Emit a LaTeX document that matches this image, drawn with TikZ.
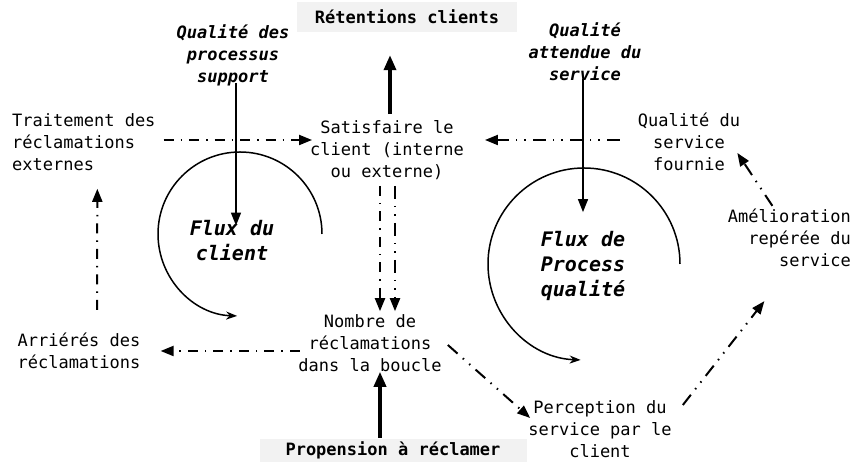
\documentclass[tikz,border=0pt]{standalone}
\usepackage{fontspec}
\setmonofont{DejaVu Sans Mono}
\usetikzlibrary{arrows.meta,calc}

\begin{document}
\begin{tikzpicture}[
    x=1pt, y=1pt,
    txt/.style={inner sep=0pt, align=center, font=\ttfamily\fontsize{17}{22}\selectfont},
    ital/.style={txt, font=\ttfamily\bfseries\itshape\fontsize{17}{22}\selectfont},
    flux/.style={txt, font=\ttfamily\bfseries\itshape\fontsize{20}{25}\selectfont},
    grey box/.style={txt, fill=gray!10, font=\ttfamily\bfseries\fontsize{17}{22}\selectfont},
    arr/.style={-{Triangle[length=13pt,width=10pt]}, line width=1.5pt},
    bigarr/.style={-{Triangle[length=15pt,width=12pt]}, line width=3.5pt},
    dd/.style={-{Triangle[length=13pt,width=10pt]}, line width=2pt, dash pattern=on 10pt off 7pt on 1.5pt off 7pt},
    ddd/.style={-{Triangle[length=13pt,width=10pt]}, line width=2pt, dash pattern=on 13pt off 7pt on 1.5pt off 7pt on 1.5pt off 7pt},
]
\useasboundingbox (0,0) rectangle (852,462);

\node[grey box, minimum width=220pt, minimum height=30pt] (reten) at (407,445) {Rétentions clients};
\node[grey box, minimum width=267pt, minimum height=23pt] (prop) at (393,11.5) {Propension à réclamer};

\node[ital] (qsup) at (233,407) {Qualité des\\processus\\support};
\node[ital] (qatt) at (585,410) {Qualité\\attendue du\\service};

\node[txt, anchor=west, align=left] (trait) at (12,320) {Traitement des\\réclamations\\externes};
\node[txt] (satis) at (387,312) {Satisfaire le\\client (interne\\ou externe)};
\node[txt] (qfour) at (689,320) {Qualité du\\service\\fournie};
\node[txt, anchor=east, align=right] (amel) at (851,224) {Amélioration\\repérée du\\service};
\node[txt] (arrie) at (79,111) {Arriérés des\\réclamations};
\node[txt] (nombre) at (370,119) {Nombre de\\réclamations\\dans la boucle};
\node[txt] (perc) at (600,33) {Perception du\\service par le\\client};

\node[flux] (fluxc) at (232,221) {Flux du\\client};
\node[flux] (fluxq) at (583,196) {Flux de\\Process\\qualité};

% boucles
\coordinate (cl) at (240,228);
\coordinate (cq) at (584,198);
\draw[-{Stealth[length=11pt,width=8pt]}, line width=1.5pt] ($(cl)+(82,0)$) arc[start angle=0, end angle=268, radius=82pt];
\draw[-{Stealth[length=11pt,width=8pt]}, line width=1.5pt] ($(cq)+(96,0)$) arc[start angle=0, end angle=268, radius=96pt];

\draw[arr] ($(qsup.south)+(3,3)$) -- ($(fluxc.north)+(4,-5)$);
\draw[arr] ($(qatt.south)+(-2,2)$) -- ($(fluxq.north)+(0,19)$);
\draw[bigarr] ($(satis.north)+(3,6)$) -- ($(reten.south)+(-17,-23)$);
\draw[bigarr] ($(prop.north)+(-13,1)$) -- ($(nombre.south)+(10,0)$);

\draw[dd] ($(trait.east)+(8,2)$) -- ($(satis.west)+(2,10)$);
\draw[ddd] ($(qfour.west)+(-18,2)$) -- ($(satis.east)+(21,10)$);
\draw[dd] ($(satis.south)+(-7,-6)$) -- ($(nombre.north)+(10,3)$);
\draw[ddd] ($(satis.south)+(8,-6)$) -- ($(nombre.north)+(25,3)$);
\draw[dd] ($(arrie.north)+(18,23)$) -- ($(trait.south)+(13.5,-18)$);
\draw[dd] ($(nombre.west)+(1.5,-8)$) -- ($(arrie.east)+(20,0)$);
\draw[ddd] ($(nombre.east)+(6,-2)$) -- ($(perc.west)+(2,11)$);
\draw[ddd] ($(perc.east)+(11,24)$) -- ($(amel.south)+(-25,-34)$);
\draw[ddd] ($(amel.north)+(-17,3)$) -- ($(qfour.east)+(-3,-11)$);

\end{tikzpicture}
\end{document}
